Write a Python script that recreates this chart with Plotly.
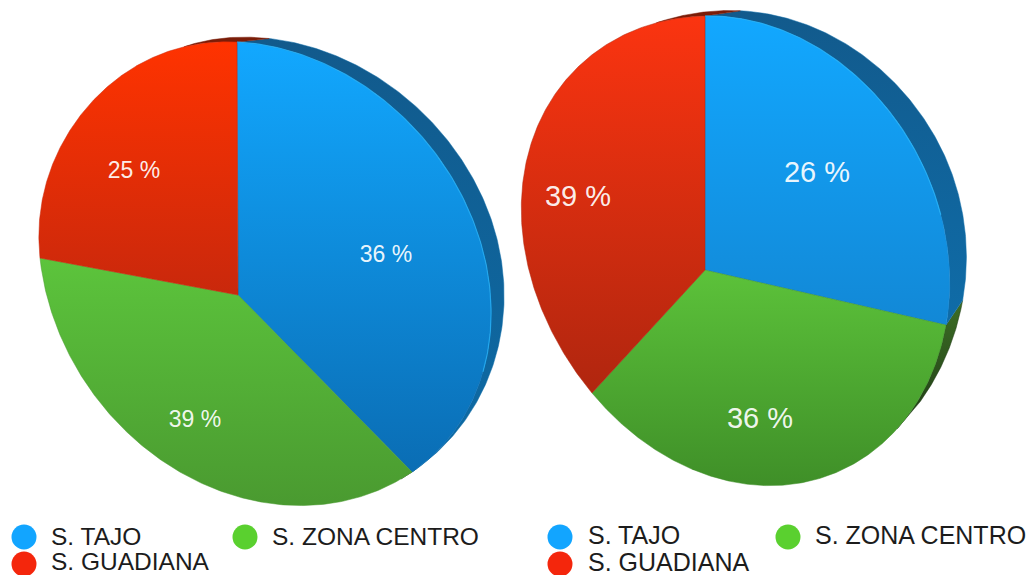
import numpy as np
import plotly.graph_objects as go

categories = ["S. TAJO", "S. ZONA CENTRO", "S. GUADIANA"]
left_values = [36, 39, 25]
right_values = [26, 36, 39]

FONT = "Liberation Sans"


def homography(src, dst):
    A, b = [], []
    for (x, y), (u, v) in zip(src, dst):
        A.append([x, y, 1, 0, 0, 0, -u * x, -u * y]); b.append(u)
        A.append([0, 0, 0, x, y, 1, -v * x, -v * y]); b.append(v)
    h = np.linalg.solve(np.array(A, float), np.array(b, float))
    return np.append(h, 1).reshape(3, 3)


def unit(f):
    f = np.asarray(f, float)
    return np.sin(2 * np.pi * f), -np.cos(2 * np.pi * f)


def project(H, x, y):
    p = H @ np.vstack([x, y, np.ones_like(x)])
    return p[0] / p[2], p[1] / p[2]


fig = go.Figure()


def vgrad(top, bottom):
    # the y axis is reversed (0 at the top), so the scale runs bottom to top
    return dict(type="vertical", colorscale=[[0, bottom], [1, top]])


def add_pie(values, apex, ends, bulge, rim_lo, rim_hi, off, tau, grads, rim_grads, label_pos, label_size):
    cum = np.concatenate([[0], np.cumsum(values)]) / sum(values)
    src = [(0, 0)] + [tuple(float(c[0]) for c in unit([cum[i]])) for i in range(3)]
    H = homography(src, [apex] + ends)

    def arc(f):
        """Point of the face outline for pie fraction f, with a small per-slice bulge."""
        f = np.asarray(f, float)
        m = np.mod(f, 1.0)
        s = np.ones_like(m)
        for i in range(3):
            inside = (m >= cum[i]) & (m <= cum[i + 1])
            s = np.where(inside, 1 + bulge[i] * np.sin(np.pi * (m - cum[i]) / (cum[i + 1] - cum[i])) ** 2, s)
        x, y = project(H, *unit(f))
        return apex[0] + (x - apex[0]) * s, apex[1] + (y - apex[1]) * s

    def rim_band(f):
        x, y = arc(f)
        w = np.clip((f - rim_lo) / (rim_hi - rim_lo), 0, 1)
        g = np.sin(np.pi * w) ** np.where(w < 0.5, 0.4, 0.9)
        bx, by = arc(f + tau * g * (1 - 2 * w))
        return np.concatenate([x, (bx + off[0] * g)[::-1]]), np.concatenate([y, (by + off[1] * g)[::-1]])

    # rim (drawn first, under the faces)
    for a, b, idx in [(cum[1], rim_hi, 1), (cum[0], min(cum[1], rim_hi), 0)]:
        if b <= a:
            continue
        rx, ry = rim_band(np.linspace(a, b, 200))
        fig.add_trace(go.Scatter(
            x=rx, y=ry, mode="lines", fill="toself", line=dict(width=0.5, color=rim_grads[idx][1]),
            fillgradient=vgrad(*rim_grads[idx]), hoverinfo="skip", showlegend=False))
    # dark red sliver above the top of the face
    rx, ry = rim_band(np.linspace(rim_lo, 0, 80))
    fig.add_trace(go.Scatter(
        x=rx, y=ry, mode="lines", fill="toself", line=dict(width=0.5, color="#7a1d08"), fillcolor="#7a1d08",
        hoverinfo="skip", showlegend=False))

    # faces
    for i in range(3):
        x, y = arc(np.linspace(cum[i], cum[i + 1], 220))
        fig.add_trace(go.Scatter(
            x=np.concatenate([[apex[0]], x, [apex[0]]]), y=np.concatenate([[apex[1]], y, [apex[1]]]),
            mode="lines", fill="toself", line=dict(width=0.5, color=grads[i][1]),
            fillgradient=vgrad(*grads[i]),
            name=categories[i], hoverinfo="skip", showlegend=False))

    # light edge along the blue arc
    x, y = arc(np.linspace(cum[0], cum[1] * 0.75, 120))
    fig.add_trace(go.Scatter(x=x, y=y, mode="lines", line=dict(width=1.2, color="rgba(40,185,255,0.7)"),
                             hoverinfo="skip", showlegend=False))

    fig.add_trace(go.Scatter(
        x=[p[0] for p in label_pos], y=[p[1] for p in label_pos],
        text=[f"{v} %" for v in values], mode="text",
        textfont=dict(family=FONT, size=label_size, color="rgba(255,255,255,0.93)"),
        hoverinfo="skip", showlegend=False))


add_pie(left_values, (238, 295), [(237, 42), (412, 472), (40, 258)], (0, 0.014, -0.018),
        -0.035, 0.37, (15, -10), 0.03,
        [("#12a8ff", "#0a6db4"), ("#5cc43c", "#4a9a30"), ("#ff3300", "#c9280c")],
        [("#125a8c", "#0d6ba6"), ("#2e5a1e", "#2e5a1e"), ("#7a1d08", "#7a1d08")],
        [(386, 256), (195, 421), (134, 172)], 23)
add_pie(right_values, (705, 270), [(705, 16), (946, 325), (592, 393)], (0, 0.014, 0.035),
        -0.035, 0.335, (22, -10), 0.03,
        [("#12a8ff", "#1288d6"), ("#5cc23a", "#3f8f28"), ("#fb3410", "#b0260f")],
        [("#125a8c", "#0f6ca8"), ("#3d6e26", "#1e3a14"), ("#7a1d08", "#7a1d08")],
        [(817, 175), (760, 421), (578, 199)], 29)

# legends
legend_colors = ["#12a5ff", "#5ad02f", "#f4260c"]
for offs, xs2, size, ty in [((24, 51), 245, 24.5, [539, 539, 564]), ((560, 588), 788, 25, [538, 538, 565])]:
    mx = [offs[0], xs2, offs[0]]
    my = [537, 537, 564]
    tx = [offs[1], xs2 + 27, offs[1]]
    fig.add_trace(go.Scatter(x=mx, y=my, mode="markers", marker=dict(size=25, color=legend_colors, line=dict(width=0)),
                             hoverinfo="skip", showlegend=False))
    fig.add_trace(go.Scatter(x=tx, y=ty, text=categories, mode="text", textposition="middle right",
                             textfont=dict(family=FONT, size=size, color="#1c1c1c"),
                             hoverinfo="skip", showlegend=False))

fig.update_layout(
    width=1033, height=575, margin=dict(l=0, r=0, t=0, b=0),
    paper_bgcolor="white", plot_bgcolor="white",
    xaxis=dict(range=[0, 1033], visible=False, fixedrange=True),
    yaxis=dict(range=[575, 0], visible=False, fixedrange=True),
    showlegend=False,
)
fig.write_html("out.html", config=dict(displayModeBar=False),
               post_script="document.body.style.margin='0';document.body.style.overflow='hidden';")
